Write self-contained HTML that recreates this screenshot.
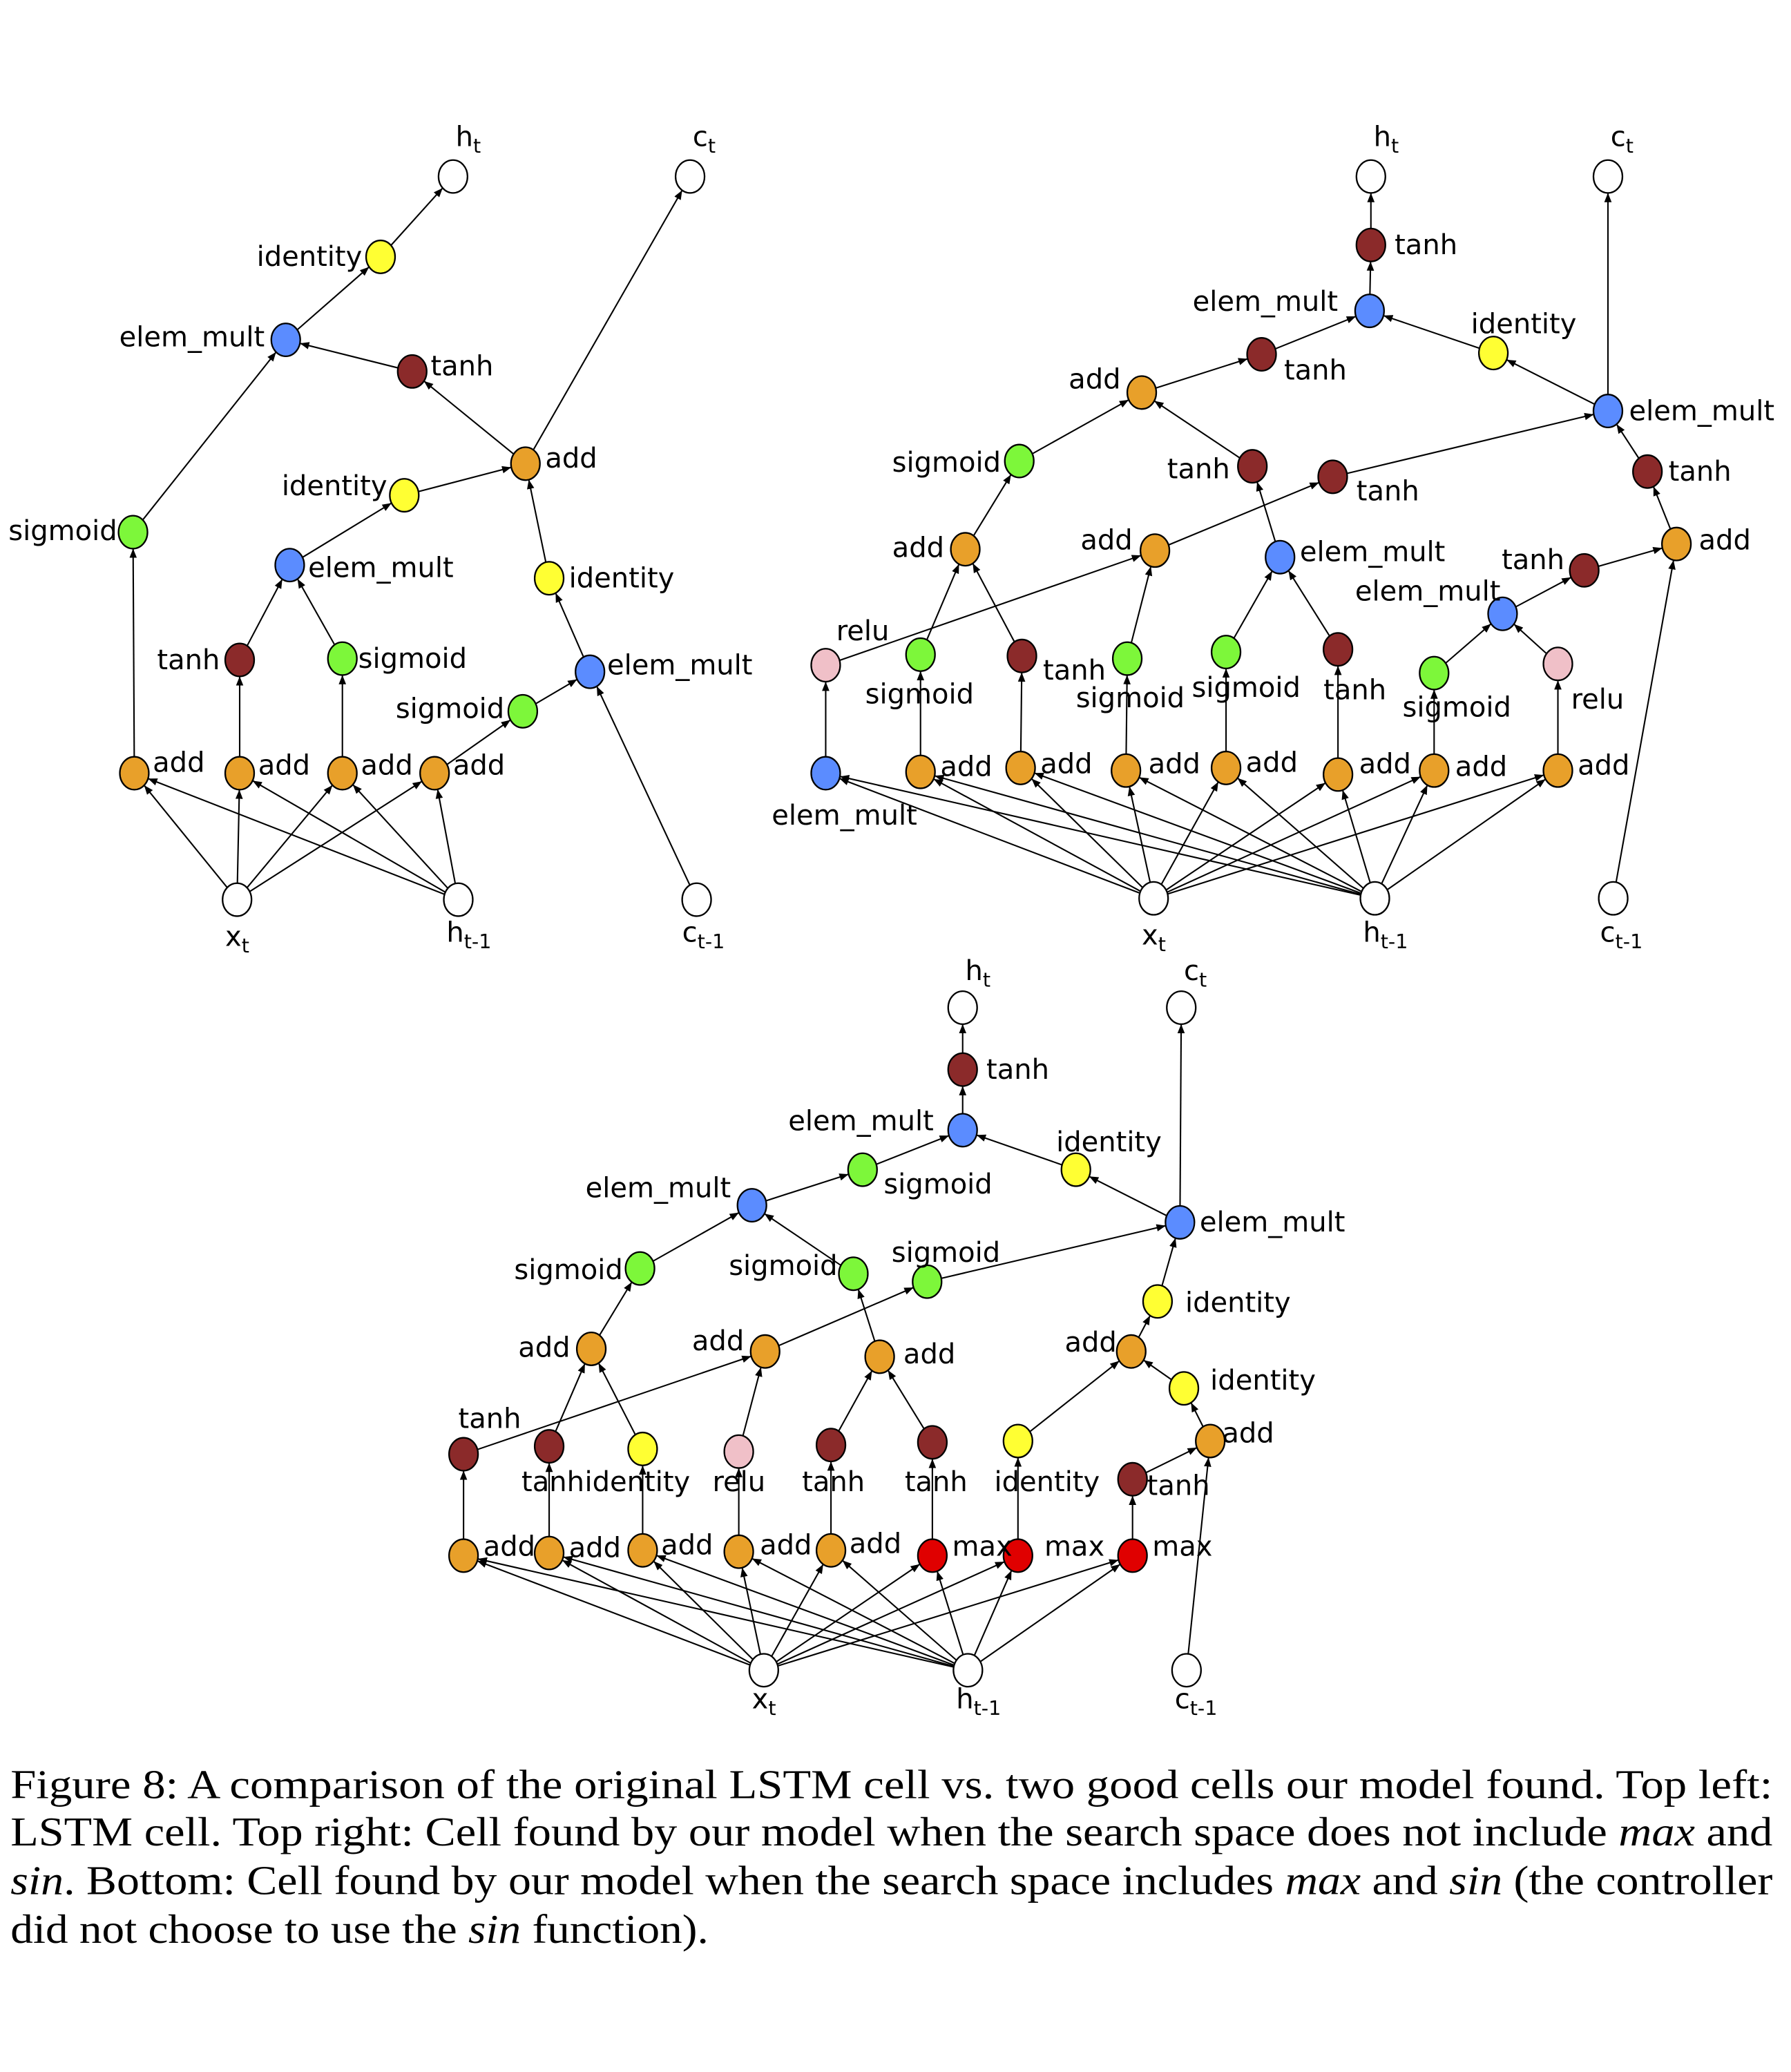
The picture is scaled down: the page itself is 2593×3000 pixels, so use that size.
<!DOCTYPE html>
<html><head><meta charset="utf-8"><style>
html,body{margin:0;padding:0;background:#fff;width:2593px;height:3000px;overflow:hidden}
svg{display:block}
.l{font-family:"DejaVu Sans","Liberation Sans",sans-serif;font-size:21px;fill:#000}
.c{font-family:"Liberation Serif",serif;font-size:31px;fill:#000}
</style></head><body>
<svg id="s" width="2593" height="3000" viewBox="0 0 1360 1573" preserveAspectRatio="none" xmlns="http://www.w3.org/2000/svg">
<defs><marker id="a" viewBox="0 0 10 10" refX="10" refY="5" markerWidth="7" markerHeight="7" orient="auto" markerUnits="userSpaceOnUse"><path d="M0,1 L10,5 L0,9 Z" fill="#000"/></marker></defs>
<g id="E"></g><g id="N"></g><g id="L"></g>
<text class="c" x="8" y="1365" textLength="1338" lengthAdjust="spacingAndGlyphs">Figure 8: A comparison of the original LSTM cell vs. two good cells our model found. Top left:</text>
<text class="c" x="8" y="1401" textLength="1338" lengthAdjust="spacingAndGlyphs">LSTM cell. Top right: Cell found by our model when the search space does not include <tspan font-style="italic">max</tspan> and</text>
<text class="c" x="8" y="1438" textLength="1338" lengthAdjust="spacingAndGlyphs"><tspan font-style="italic">sin</tspan>. Bottom: Cell found by our model when the search space includes <tspan font-style="italic">max</tspan> and <tspan font-style="italic">sin</tspan> (the controller</text>
<text class="c" x="8" y="1475" textLength="530" lengthAdjust="spacingAndGlyphs">did not choose to use the <tspan font-style="italic">sin</tspan> function).</text>
</svg>
<script>
var C={w:"#fff",y:"#ffff33",b:"#5b8cff",m:"#8b2a2a",o:"#e8a02a",g:"#7df73a",p:"#f0c0c8",r:"#e00000"};
var ns="http://www.w3.org/2000/svg";
var RX=11,RY=12.5;
function el(t,a,p){var e=document.createElementNS(ns,t);for(var k in a)e.setAttribute(k,a[k]);document.getElementById(p).appendChild(e);return e;}
function graph(nodes,edges,labels){
 for(var k in nodes){var n=nodes[k];el("ellipse",{cx:n[0],cy:n[1],rx:RX,ry:RY,fill:C[n[2]],stroke:"#000","stroke-width":1.2},"N");}
 edges.forEach(function(e){var a=nodes[e[0]],b=nodes[e[1]];var dx=b[0]-a[0],dy=b[1]-a[1];var L=Math.sqrt(dx*dx+dy*dy);
  function r(ux,uy){return 1/Math.sqrt(ux*ux/(RX*RX)+uy*uy/(RY*RY));}
  var ux=dx/L,uy=dy/L,ra=r(ux,uy);
  el("line",{x1:a[0]+ux*ra,y1:a[1]+uy*ra,x2:b[0]-ux*ra,y2:b[1]-uy*ra,stroke:"#000","stroke-width":1.1,"marker-end":"url(#a)"},"E");});
 labels.forEach(function(l){var t=el("text",{x:l[1],y:l[2]+7,"class":"l","text-anchor":l[3]||"start"},"L");
  var s=l[0].split("_SUB_");t.appendChild(document.createTextNode(s[0]));
  if(s[1]){var ts=document.createElementNS(ns,"tspan");ts.setAttribute("font-size","15");ts.setAttribute("dy","5");ts.textContent=s[1];t.appendChild(ts);}});
}
// Top-left
graph({ht:[344,134,"w"],ct:[524,134,"w"],id1:[289,195,"y"],em1:[217,258,"b"],t1:[313,282,"m"],ad:[399,352,"o"],id2:[307,376,"y"],em2:[220,429,"b"],s1:[101,404,"g"],id3:[417,439,"y"],em3:[448,510,"b"],t2:[182,501,"m"],s2:[260,500,"g"],s3:[397,540,"g"],a1:[102,587,"o"],a2:[182,587,"o"],a3:[260,587,"o"],a4:[330,587,"o"],x:[180,683,"w"],h:[348,683,"w"],c:[529,683,"w"]},
[["id1","ht"],["em1","id1"],["t1","em1"],["ad","t1"],["ad","ct"],["id2","ad"],["em2","id2"],["id3","ad"],["em3","id3"],["c","em3"],["s3","em3"],["t2","em2"],["s2","em2"],["s1","em1"],["a1","s1"],["a2","t2"],["a3","s2"],["a4","s3"],
["x","a1"],["x","a2"],["x","a3"],["x","a4"],["h","a1"],["h","a2"],["h","a3"],["h","a4"]],
[["h_SUB_t",346,104],["c_SUB_t",526,104],["identity",275,195,"end"],["elem_mult",201,256,"end"],["tanh",327,278],["add",414,348],["identity",294,369,"end"],["elem_mult",234,431],["sigmoid",89,403,"end"],["identity",432,439],["elem_mult",461,505],["tanh",167,501,"end"],["sigmoid",272,500],["sigmoid",383,538,"end"],["add",116,579],["add",196,581],["add",274,581],["add",344,581],["x_SUB_t",171,711],["h_SUB_t-1",339,708],["c_SUB_t-1",518,708]]);
// Top-right
graph({ht:[1041,134,"w"],ct:[1221,134,"w"],tA:[1041,186,"m"],eA:[1040,236,"b"],iA:[1134,268,"y"],tB:[958,269,"m"],aA:[867,298,"o"],eB:[1221,312,"b"],sA:[774,350,"g"],tC:[951,354,"m"],tD:[1012,362,"m"],tE:[1251,358,"m"],aB:[733,417,"o"],aC:[877,418,"o"],eC:[972,423,"b"],aD:[1273,413,"o"],tF:[1203,433,"m"],eD:[1141,466,"b"],r1:[627,505,"p"],sB:[699,497,"g"],tG:[776,498,"m"],sC:[856,500,"g"],sD:[931,495,"g"],tH:[1016,493,"m"],sE:[1089,511,"g"],r2:[1183,504,"p"],
b1:[627,587,"b"],b2:[699,586,"o"],b3:[775,583,"o"],b4:[855,585,"o"],b5:[931,583,"o"],b6:[1016,588,"o"],b7:[1089,585,"o"],b8:[1183,585,"o"],x:[876,682,"w"],h:[1044,682,"w"],c:[1225,682,"w"]},
[["tA","ht"],["eA","tA"],["eB","ct"],["iA","eA"],["tB","eA"],["eB","iA"],["aA","tB"],["sA","aA"],["tC","aA"],["tD","eB"],["tE","eB"],["aB","sA"],["eC","tC"],["aC","tD"],["aD","tE"],["tF","aD"],["c","aD"],["eD","tF"],["r1","aC"],["sB","aB"],["tG","aB"],["sC","aC"],["sD","eC"],["tH","eC"],["sE","eD"],["r2","eD"],
["b1","r1"],["b2","sB"],["b3","tG"],["b4","sC"],["b5","sD"],["b6","tH"],["b7","sE"],["b8","r2"],
["x","b1"],["x","b2"],["x","b3"],["x","b4"],["x","b5"],["x","b6"],["x","b7"],["x","b8"],["h","b1"],["h","b2"],["h","b3"],["h","b4"],["h","b5"],["h","b6"],["h","b7"],["h","b8"]],
[["h_SUB_t",1043,104],["c_SUB_t",1223,104],["tanh",1059,186],["elem_mult",1016,229,"end"],["identity",1117,246],["tanh",975,281],["add",851,288,"end"],["elem_mult",1237,312],["sigmoid",760,351,"end"],["tanh",934,356,"end"],["tanh",1030,373],["tanh",1267,358],["add",717,416,"end"],["add",860,410,"end"],["elem_mult",987,419],["add",1290,410],["tanh",1188,425,"end"],["elem_mult",1029,449],["relu",635,479],["sigmoid",657,527],["tanh",792,509],["sigmoid",817,530],["sigmoid",905,522],["tanh",1005,524],["sigmoid",1065,537],["relu",1193,531],["elem_mult",586,619],
["add",714,582],["add",790,580],["add",872,580],["add",946,579],["add",1032,580],["add",1105,582],["add",1198,581],["x_SUB_t",867,710],["h_SUB_t-1",1035,708],["c_SUB_t-1",1215,708]]);
// Bottom
graph({ht:[731,765,"w"],ct:[897,765,"w"],tA:[731,812,"m"],eA:[731,858,"b"],sA:[655,888,"g"],iA:[817,888,"y"],eB:[571,915,"b"],eC:[896,928,"b"],sB:[486,963,"g"],sC:[648,967,"g"],sD:[704,973,"g"],iB:[879,988,"y"],aA:[449,1024,"o"],aB:[581,1026,"o"],aC:[668,1030,"o"],aD:[859,1026,"o"],iC:[899,1054,"y"],aE:[919,1094,"o"],
m1:[352,1104,"m"],m2:[417,1098,"m"],m3:[488,1100,"y"],m4:[561,1102,"p"],m5:[631,1097,"m"],m6:[708,1095,"m"],m7:[773,1094,"y"],m8:[860,1123,"m"],
b1:[352,1181,"o"],b2:[417,1179,"o"],b3:[488,1177,"o"],b4:[561,1178,"o"],b5:[631,1177,"o"],b6:[708,1181,"r"],b7:[773,1181,"r"],b8:[860,1181,"r"],x:[580,1268,"w"],h:[735,1268,"w"],c:[901,1268,"w"]},
[["tA","ht"],["eA","tA"],["sA","eA"],["iA","eA"],["eB","sA"],["eC","iA"],["eC","ct"],["sB","eB"],["sC","eB"],["sD","eC"],["iB","eC"],["aA","sB"],["aB","sD"],["aC","sC"],["aD","iB"],["iC","aD"],["aE","iC"],["m1","aB"],["m2","aA"],["m3","aA"],["m4","aB"],["m5","aC"],["m6","aC"],["m7","aD"],["m8","aE"],["c","aE"],
["b1","m1"],["b2","m2"],["b3","m3"],["b4","m4"],["b5","m5"],["b6","m6"],["b7","m7"],["b8","m8"],
["x","b1"],["x","b2"],["x","b3"],["x","b4"],["x","b5"],["x","b6"],["x","b7"],["x","b8"],["h","b1"],["h","b2"],["h","b3"],["h","b4"],["h","b5"],["h","b6"],["h","b7"],["h","b8"]],
[["h_SUB_t",733,737],["c_SUB_t",899,737],["tanh",749,812],["elem_mult",709,851,"end"],["sigmoid",671,899],["identity",802,867],["elem_mult",555,902,"end"],["elem_mult",911,928],["sigmoid",473,964,"end"],["sigmoid",636,961,"end"],["sigmoid",677,951],["identity",900,989],["add",433,1023,"end"],["add",565,1018,"end"],["add",686,1028],["add",848,1019,"end"],["identity",919,1048],["add",928,1088],
["tanh",348,1077],["tanh",396,1125],["identity",444,1125],["relu",541,1125],["tanh",609,1125],["tanh",687,1125],["identity",755,1125],["tanh",871,1128],
["add",367,1174],["add",432,1175],["add",502,1173],["add",577,1173],["add",645,1172],["max",723,1174],["max",793,1174],["max",875,1174],["x_SUB_t",571,1290],["h_SUB_t-1",726,1290],["c_SUB_t-1",892,1290]]);
</script>
</body></html>
